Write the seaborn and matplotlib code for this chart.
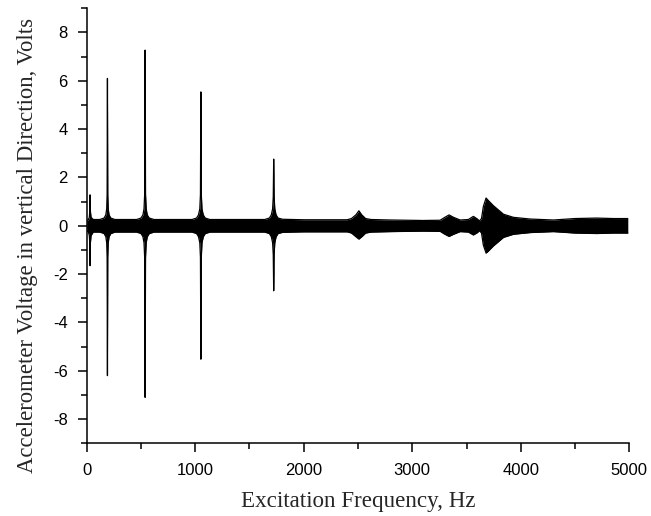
import matplotlib
matplotlib.use("Agg")
import matplotlib.pyplot as plt
import seaborn as sns
import pandas as pd
from matplotlib.ticker import MultipleLocator

# envelope of the accelerometer trace (Hz, Volts)
freq = [0, 15, 24, 28, 31, 34, 40, 60,
        120, 160, 176, 184, 188, 191, 194, 198, 206, 222, 260,
        460, 500, 518, 528, 534, 538, 542, 548, 558, 576, 620,
        970, 1012, 1030, 1042, 1048, 1052, 1056, 1062, 1074, 1092, 1135,
        1640, 1683, 1701, 1713, 1719, 1723, 1727, 1733, 1745, 1763, 1805,
        2000, 2400, 2440, 2480, 2508, 2535, 2570, 2620, 2800, 3100,
        3257, 3300, 3339, 3380, 3441, 3517, 3563, 3600, 3619, 3638, 3655,
        3680, 3700, 3748, 3840, 3932, 4086, 4300, 4500, 4700, 4850, 4986]

upper = [0.22, 0.25, 0.35, 0.6, 1.28, 0.6, 0.35, 0.26,
         0.26, 0.32, 0.45, 0.7, 1.3, 6.1, 1.3, 0.7, 0.45, 0.32, 0.26,
         0.26, 0.32, 0.45, 0.7, 1.3, 7.27, 1.3, 0.7, 0.45, 0.32, 0.26,
         0.26, 0.32, 0.45, 0.7, 1.3, 5.54, 1.3, 0.7, 0.45, 0.32, 0.26,
         0.26, 0.32, 0.45, 0.7, 1.2, 2.76, 1.2, 0.7, 0.45, 0.32, 0.27,
         0.25, 0.25, 0.3, 0.45, 0.62, 0.45, 0.3, 0.26, 0.24, 0.22,
         0.23, 0.35, 0.45, 0.35, 0.24, 0.26, 0.39, 0.28, 0.2, 0.3, 0.8,
         1.15, 1.05, 0.83, 0.48, 0.35, 0.28, 0.24, 0.3, 0.32, 0.3, 0.3]

lower = [-0.22, -0.25, -0.4, -0.7, -1.65, -0.7, -0.4, -0.26,
         -0.26, -0.32, -0.45, -0.7, -1.3, -6.2, -1.3, -0.7, -0.45, -0.32, -0.26,
         -0.26, -0.32, -0.45, -0.7, -1.3, -7.1, -1.3, -0.7, -0.45, -0.32, -0.26,
         -0.26, -0.32, -0.45, -0.7, -1.3, -5.52, -1.3, -0.7, -0.45, -0.32, -0.26,
         -0.26, -0.32, -0.45, -0.7, -1.2, -2.69, -1.2, -0.7, -0.45, -0.32, -0.27,
         -0.25, -0.25, -0.3, -0.45, -0.55, -0.45, -0.3, -0.26, -0.24, -0.22,
         -0.23, -0.35, -0.44, -0.35, -0.24, -0.26, -0.38, -0.28, -0.2, -0.3, -0.8,
         -1.13, -1.05, -0.83, -0.48, -0.35, -0.28, -0.24, -0.3, -0.32, -0.3, -0.3]

df = pd.DataFrame({"freq": freq, "upper": upper, "lower": lower})

sns.set_style("ticks")
plt.rcParams["font.family"] = ["Liberation Sans", "DejaVu Sans"]
plt.rcParams["axes.unicode_minus"] = False

fig = plt.figure(figsize=(6.51, 5.16), dpi=100)
ax = fig.add_axes([0.1332, 0.1409, 0.8335, 0.843])

ax.fill_between(df["freq"], df["lower"], df["upper"], color="black", linewidth=0)
sns.lineplot(data=df, x="freq", y="upper", ax=ax, color="black", linewidth=0.9)
sns.lineplot(data=df, x="freq", y="lower", ax=ax, color="black", linewidth=0.9)

ax.set_xlim(0, 5000)
ax.set_ylim(-9, 9)
ax.xaxis.set_major_locator(MultipleLocator(1000))
ax.xaxis.set_minor_locator(MultipleLocator(500))
ax.yaxis.set_major_locator(MultipleLocator(2))
ax.yaxis.set_minor_locator(MultipleLocator(1))
ax.tick_params(which="major", direction="out", length=6.7, width=1.1,
               labelsize=12, color="black", labelcolor="black")
ax.tick_params(which="minor", direction="out", length=4.3, width=1.1, color="black")
ax.tick_params(axis="x", which="major", pad=7.5)
ax.tick_params(axis="y", which="major", pad=7)

sns.despine(ax=ax)
for s in ["left", "bottom"]:
    ax.spines[s].set_linewidth(1.1)
    ax.spines[s].set_color("black")

ax.set_xlabel("Excitation Frequency, Hz", family=["Liberation Serif"], fontsize=16.6,
              labelpad=9)
ax.set_ylabel("Accelerometer Voltage in vertical Direction, Volts",
              family=["Liberation Serif"], fontsize=16.4)
ax.yaxis.set_label_coords(-0.09, 0.456)

fig.savefig("out.png", dpi=100)
